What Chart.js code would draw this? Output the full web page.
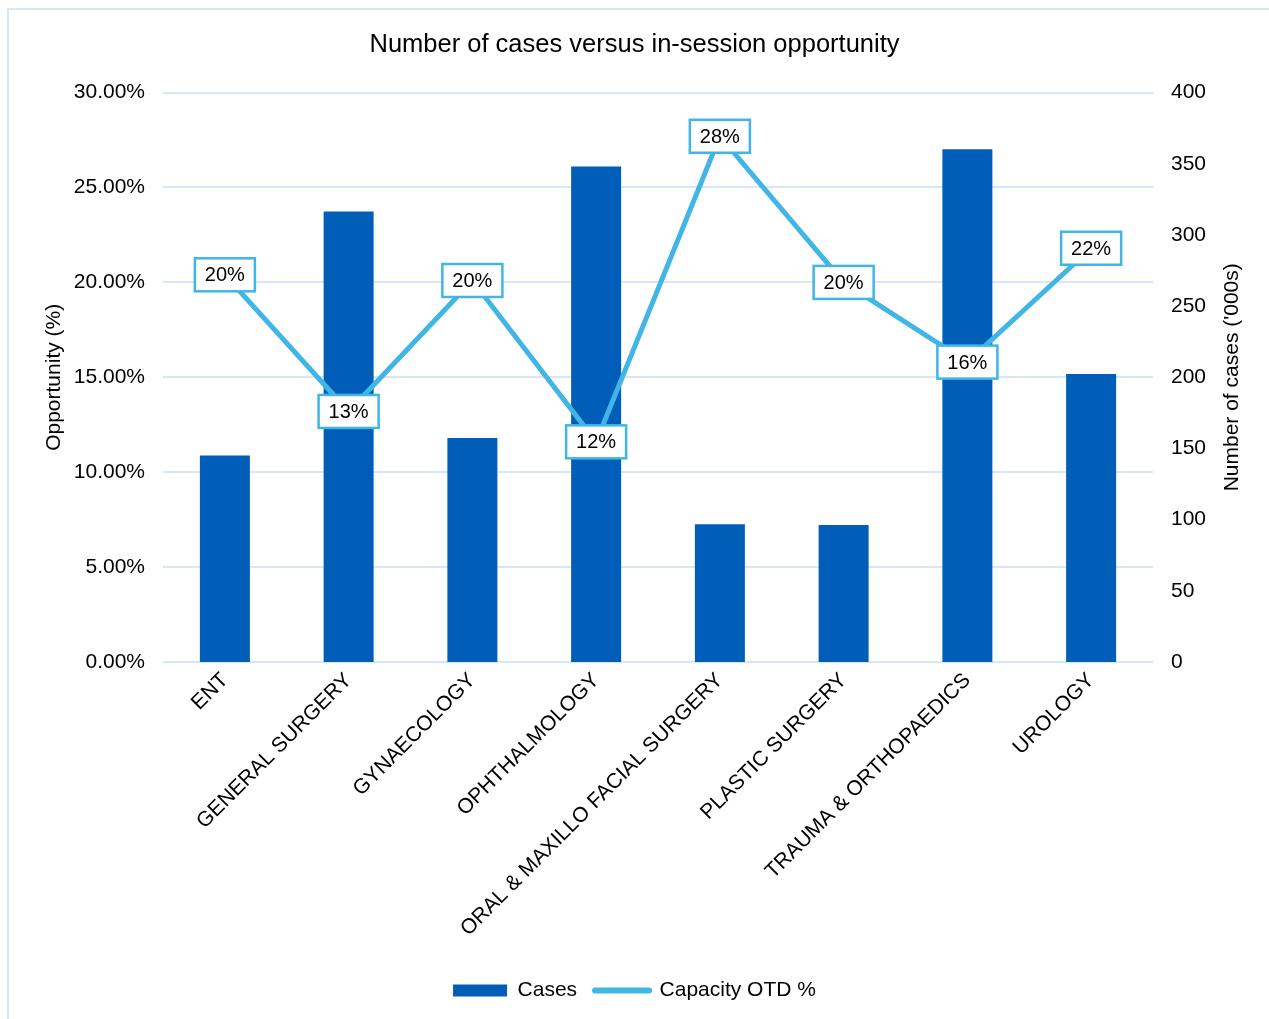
<!DOCTYPE html>
<html>
<head>
<meta charset="utf-8">
<title>Number of cases versus in-session opportunity</title>
<script src="https://cdn.jsdelivr.net/npm/chart.js@4.4.1/dist/chart.umd.min.js"></script>
<style>
  html, body { margin: 0; padding: 0; background: #fff; overflow: hidden; }
  #wrap { position: relative; width: 1269px; height: 1019px; }
  #frame {
    position: absolute; left: 7px; top: 8px; width: 1300px; height: 1100px;
    border-top: 2px solid #d6e7fa; border-left: 2px solid #d6e7fa;
    pointer-events: none;
  }
  canvas { display: block; }
</style>
</head>
<body>
<div id="wrap">
  <canvas id="chart" width="1269" height="1019"></canvas>
  <div id="frame"></div>
</div>
<script>
// Specialties on the x axis
const specialties = [
  'ENT',
  'GENERAL SURGERY',
  'GYNAECOLOGY',
  'OPHTHALMOLOGY',
  'ORAL & MAXILLO FACIAL SURGERY',
  'PLASTIC SURGERY',
  'TRAUMA & ORTHOPAEDICS',
  'UROLOGY'
];

// Cases per specialty, thousands (right axis)
const casesThousands = [145, 316.5, 157.4, 348, 96.8, 96.3, 360.2, 202.3];

// Capacity OTD opportunity, percent (left axis)
const capacityOtdPct = [20.4, 13.2, 20.1, 11.6, 27.7, 20.0, 15.8, 21.8];

const chartTitle = 'Number of cases versus in-session opportunity';
const leftAxisTitle = 'Opportunity (%)';
const rightAxisTitle = "Number of cases ('000s)";

const BAR_BLUE = '#005EB8';
const LINE_BLUE = '#41B6E6';
const GRID_BLUE = '#d6e7fa';
const FONT = '"Liberation Sans", Arial, sans-serif';

Chart.defaults.font.family = FONT;
Chart.defaults.color = '#000';

// Boxed value labels on the line points
const pointLabels = {
  id: 'pointLabels',
  afterDatasetsDraw(chart) {
    const idx = chart.data.datasets.findIndex(d => d.type === 'line');
    const meta = chart.getDatasetMeta(idx);
    const values = chart.data.datasets[idx].data;
    const ctx = chart.ctx;
    ctx.save();
    ctx.font = '20px ' + FONT;
    ctx.textAlign = 'center';
    ctx.textBaseline = 'middle';
    meta.data.forEach((pt, i) => {
      const text = Math.round(values[i]) + '%';
      const w = ctx.measureText(text).width + 20;
      const h = 33;
      ctx.fillStyle = '#fff';
      ctx.fillRect(pt.x - w / 2, pt.y - h / 2, w, h);
      ctx.lineWidth = 2.5;
      ctx.strokeStyle = LINE_BLUE;
      ctx.strokeRect(pt.x - w / 2, pt.y - h / 2, w, h);
      ctx.fillStyle = '#000';
      ctx.fillText(text, pt.x, pt.y + 1);
    });
    ctx.restore();
  }
};

// Right axis title reads bottom-to-top, same as the left one
const rightTitle = {
  id: 'rightTitle',
  afterDraw(chart) {
    const scale = chart.scales.y1;
    const ctx = chart.ctx;
    ctx.save();
    ctx.translate(scale.right - 37, (chart.chartArea.top + chart.chartArea.bottom) / 2);
    ctx.rotate(-Math.PI / 2);
    ctx.font = '21px ' + FONT;
    ctx.fillStyle = '#000';
    ctx.textAlign = 'center';
    ctx.textBaseline = 'middle';
    ctx.fillText(rightAxisTitle, 0, 0);
    ctx.restore();
  }
};

new Chart(document.getElementById('chart'), {
  data: {
    labels: specialties,
    datasets: [
      {
        type: 'bar',
        label: 'Cases',
        data: casesThousands,
        yAxisID: 'y1',
        backgroundColor: BAR_BLUE,
        borderWidth: 0,
        barPercentage: 0.404,
        categoryPercentage: 1,
        order: 1
      },
      {
        type: 'line',
        label: 'Capacity OTD %',
        data: capacityOtdPct,
        yAxisID: 'y',
        borderColor: LINE_BLUE,
        backgroundColor: LINE_BLUE,
        borderWidth: 5,
        pointRadius: 0,
        tension: 0,
        order: 0
      }
    ]
  },
  options: {
    responsive: false,
    animation: false,
    devicePixelRatio: 1,
    layout: { padding: { top: 20, left: 0, right: 0, bottom: 8 } },
    scales: {
      x: {
        offset: true,
        grid: { display: false, drawTicks: false },
        border: { display: false },
        ticks: {
          autoSkip: false,
          minRotation: 45,
          maxRotation: 45,
          padding: 6,
          font: { size: 21 },
          color: '#000'
        },
        afterFit(scale) { scale.height = 300; }
      },
      y: {
        position: 'left',
        min: 0,
        max: 30,
        grid: { color: GRID_BLUE, lineWidth: 2, drawTicks: false },
        border: { display: false },
        ticks: {
          stepSize: 5,
          padding: 18,
          font: { size: 21 },
          color: '#000',
          callback: v => v.toFixed(2) + '%'
        },
        title: {
          display: true,
          text: leftAxisTitle,
          font: { size: 21 },
          color: '#000',
          padding: { top: 42, bottom: 0 }
        },
        afterFit(scale) { scale.width = 163; }
      },
      y1: {
        position: 'right',
        min: 0,
        max: 400,
        grid: { display: false, drawTicks: false },
        border: { display: false },
        ticks: {
          stepSize: 50,
          padding: 18,
          font: { size: 21 },
          color: '#000'
        },
        afterFit(scale) { scale.width = 116; }
      }
    },
    plugins: {
      title: {
        display: true,
        text: chartTitle,
        font: { size: 25.5, weight: 'normal' },
        color: '#000',
        padding: { top: 10, bottom: 32 }
      },
      legend: {
        position: 'bottom',
        labels: {
          usePointStyle: true,
          pointStyleWidth: 54,
          boxHeight: 12,
          padding: 18,
          font: { size: 21 },
          color: '#000',
          sort: (a, b) => a.datasetIndex - b.datasetIndex,
          generateLabels(chart) {
            const items = Chart.defaults.plugins.legend.labels.generateLabels(chart);
            items.forEach(it => {
              const ds = chart.data.datasets[it.datasetIndex];
              if (ds.type === 'line') {
                it.pointStyle = 'line';
                it.lineWidth = 6;
                it.lineCap = 'round';
                it.strokeStyle = LINE_BLUE;
              } else {
                it.pointStyle = 'rect';
                it.lineWidth = 0;
                it.fillStyle = BAR_BLUE;
              }
            });
            return items;
          }
        }
      },
      tooltip: { enabled: false }
    }
  },
  plugins: [pointLabels, rightTitle]
});
</script>
</body>
</html>
